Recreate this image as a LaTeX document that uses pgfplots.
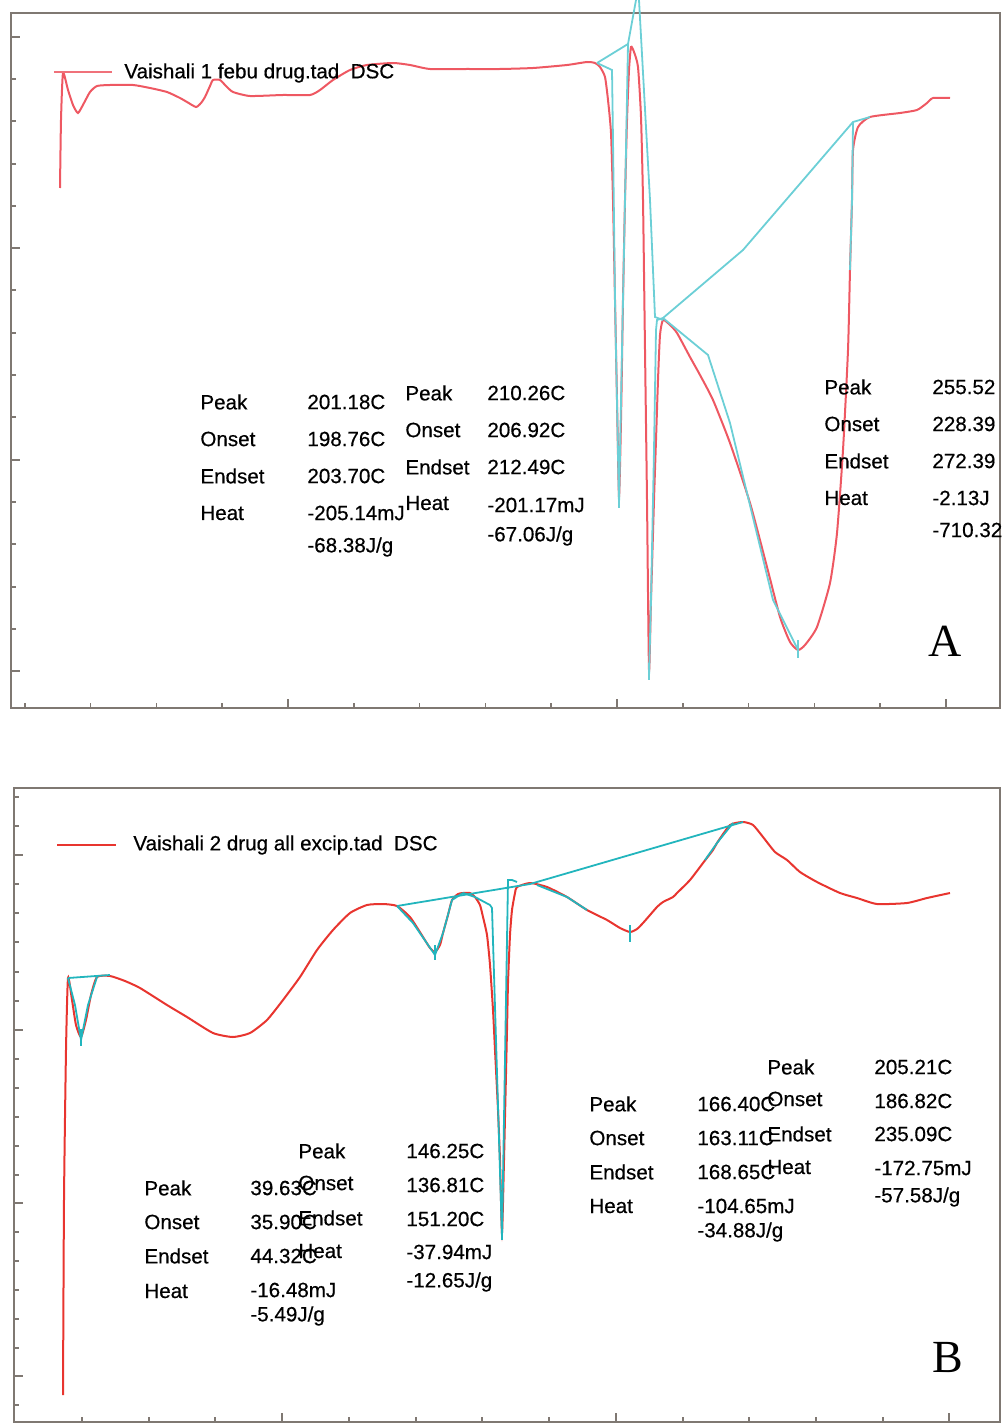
\documentclass[border=0pt]{standalone}
\usepackage{fontspec}
\setmainfont{Liberation Sans}
\newfontfamily\labfont{Liberation Sans}[FakeBold=0.5]
\newfontfamily\serifL{Liberation Serif}
\usepackage{pgfplots}
\pgfplotsset{compat=1.18}
\usepackage{pgfplotstable}
\definecolor{frameC}{HTML}{7F7872}
\definecolor{redA}{HTML}{EE5862}
\definecolor{cyanA}{HTML}{6CCFD6}
\definecolor{redB}{HTML}{E8352F}
\definecolor{cyanB}{HTML}{22B5BD}

% pixel coordinates (x, y downwards)
\pgfplotstableread{
x y
60 188
61 120
63 73
68 90
73 105
78 113
84 103
90 92
97 86
110 85
133 85
150 88
167 92
180 98
187 102
196 107
201 103
205 97
210 86
213 80
220 80
226 86
233 92
250 96
283 95
310 95
320 90
333 80
350 70
367 65
393 63
410 65
430 69
467 69
500 69
533 68
567 65
587 62
595 63
600 67
605 77
608 100
611 133
613 200
615 300
617 400
619 497
621 420
623 300
625 200
627 120
629 70
631 47
634 52
638 67
641 117
643 200
645 350
647 500
649 670
651 600
654 500
656 440
658 380
660 335
663 320
670 325
677 333
690 357
700 375
713 400
730 443
750 503
767 567
780 617
790 642
798 650
805 645
817 627
830 583
837 533
843 450
848 350
850 270
852 200
853 150
858 127
870 117
900 113
917 110
927 103
933 98
950 98
}\curveA

\pgfplotstableread{
x y
63 1395
64 1200
66 1050
68 978
72 1000
76 1025
81 1037
86 1020
91 995
97 977
110 976
125 981
140 988
167 1005
187 1017
213 1033
233 1037
250 1033
267 1020
283 1000
300 977
317 950
333 930
350 913
367 905
383 904
397 906
410 917
423 937
430 948
435 952
440 945
443 933
448 915
452 900
458 894
463 893
470 893
475 897
480 905
483 917
487 935
490 965
493 1010
495 1050
498 1110
500 1160
502 1233
504 1160
505 1117
507 1030
508 983
510 935
512 910
515 893
517 887
530 883
547 887
567 897
587 910
607 920
620 928
630 932
637 929
643 923
650 915
657 907
663 902
673 897
677 893
690 880
703 863
713 850
717 843
730 825
743 822
753 825
763 837
775 852
787 860
800 872
817 882
840 893
857 898
877 904
907 903
927 898
950 893
}\curveB

\pgfplotsset{
  dscax/.style={
    scale only axis, clip=false,
    axis line style={draw=frameC, line width=1pt},
    tick align=inside, xtick pos=left, ytick pos=left,
    xticklabels={}, yticklabels={},
    major tick length=4.5pt, minor tick length=2.5pt,
    every tick/.style={draw=frameC, line width=0.8pt},
  },
}
\tikzset{lab/.style={anchor=west, inner sep=0pt, font=\labfont\fontsize{10.3}{12}\selectfont}}

\begin{document}
\begin{tikzpicture}
\path[use as bounding box] (0,0) rectangle (501.5pt,-711.5pt);

% ---------------- Panel A ----------------
\begin{axis}[dscax,
  at={(5.5pt,-354pt)}, anchor=south west,
  width=494.5pt, height=347.5pt,
  xmin=11, xmax=1000, ymin=-708, ymax=-13,
  xtick={288,617,946},
  minor xtick={24.8,90.6,156.4,222.2,353.8,419.6,485.4,551.2,682.8,748.6,814.4,880.2},
  ytick={-671,-460,-248,-37},
  minor ytick={-629,-587,-544,-502,-417,-375,-333,-290,-206,-164,-121,-79},
]
\addplot[redA, line width=1pt, smooth, tension=0.35] table[x=x, y expr=-\thisrow{y}] {\curveA};
% integration construction lines
\addplot[cyanA, line width=0.9pt] coordinates {(597,-63) (628,-44) (636,0)};
\addplot[cyanA, line width=0.9pt] coordinates {(597,-63) (612,-70) (613,-140) (615,-300) (619,-505)};
\addplot[cyanA, line width=0.9pt] coordinates {(619,-505) (622,-350) (624,-250) (626,-150) (628,-44)};
\addplot[cyanA, line width=0.9pt] coordinates {(639,0) (650,-200) (655,-317) (663,-320)};
\addplot[cyanA, line width=0.9pt] coordinates {(649,-677) (651,-600) (654,-450) (656,-330) (657,-320) (663,-318)};
\addplot[cyanA, line width=0.9pt] coordinates {(663,-318) (743,-250) (853,-122) (870,-117)};
\addplot[cyanA, line width=0.9pt] coordinates {(853,-122) (852,-200) (850,-270)};
\addplot[cyanA, line width=0.9pt] coordinates {(663,-318) (708,-355) (730,-423) (773,-600) (798,-650)};
\addplot[cyanA, line width=0.9pt] coordinates {(619,-493) (619,-508)};
\addplot[cyanA, line width=0.9pt] coordinates {(649,-663) (649,-680)};
\addplot[cyanA, line width=0.9pt] coordinates {(798,-640) (798,-658)};
% legend
\addplot[redA!85!white, line width=1.3pt] coordinates {(54,-72) (112,-72)};
\node[lab] at (axis cs:124,-73) {Vaishali 1 febu drug.tad\ \ DSC};
% annotations
\node[lab] at (axis cs:200,-402) {Peak};
\node[lab] at (axis cs:200,-439) {Onset};
\node[lab] at (axis cs:200,-476) {Endset};
\node[lab] at (axis cs:200,-513) {Heat};
\node[lab] at (axis cs:307,-402) {201.18C};
\node[lab] at (axis cs:307,-439) {198.76C};
\node[lab] at (axis cs:307,-476) {203.70C};
\node[lab] at (axis cs:307,-513) {-205.14mJ};
\node[lab] at (axis cs:307,-547) {-68.38J/g};
\node[lab] at (axis cs:405,-393) {Peak};
\node[lab] at (axis cs:405,-430) {Onset};
\node[lab] at (axis cs:405,-467) {Endset};
\node[lab] at (axis cs:405,-503) {Heat};
\node[lab] at (axis cs:487,-393) {210.26C};
\node[lab] at (axis cs:487,-430) {206.92C};
\node[lab] at (axis cs:487,-467) {212.49C};
\node[lab] at (axis cs:487,-505) {-201.17mJ};
\node[lab] at (axis cs:487,-536) {-67.06J/g};
\node[lab] at (axis cs:824,-387) {Peak};
\node[lab] at (axis cs:824,-424) {Onset};
\node[lab] at (axis cs:824,-461) {Endset};
\node[lab] at (axis cs:824,-498) {Heat};
\node[lab] at (axis cs:932,-387) {255.52};
\node[lab] at (axis cs:932,-424) {228.39};
\node[lab] at (axis cs:932,-461) {272.39};
\node[lab] at (axis cs:932,-498) {-2.13J};
\node[lab] at (axis cs:932,-530) {-710.32};
\node[inner sep=0pt, font=\serifL\fontsize{23}{26}\selectfont] at (axis cs:945,-641) {A};
\end{axis}

% ---------------- Panel B ----------------
\begin{axis}[dscax,
  at={(7pt,-711pt)}, anchor=south west,
  width=493pt, height=317pt,
  xmin=14, xmax=1000, ymin=-1422, ymax=-788,
  xtick={282,616,949},
  minor xtick={82,149,215,349,416,482,549,683,749,816,883},
  ytick={-1376,-1203,-1030,-855},
  minor ytick={-1405,-1348,-1319,-1290,-1261,-1232,-1175,-1146,-1117,-1088,-1059,-1001,-972,-942,-913,-884,-826,-797},
]
\addplot[redB, line width=1pt, smooth, tension=0.35] table[x=x, y expr=-\thisrow{y}] {\curveB};
\addplot[cyanB, line width=0.9pt] coordinates {(68,-978) (110,-975)};
\addplot[cyanB, line width=0.9pt] coordinates {(68,-978) (75,-1005) (81,-1040) (88,-1005) (97,-977)};
\addplot[cyanB, line width=0.9pt] coordinates {(81,-1029) (81,-1046)};
\addplot[cyanB, line width=0.9pt] coordinates {(397,-906) (530,-884) (743,-822)};
\addplot[cyanB, line width=0.9pt] coordinates {(397,-906) (413,-923) (435,-955) (443,-933) (452,-900) (463,-893)};
\addplot[cyanB, line width=0.9pt] coordinates {(435,-945) (435,-960)};
\addplot[cyanB, line width=0.9pt] coordinates {(463,-893) (475,-897) (490,-905) (492,-908) (502,-1238) (508,-880) (512,-880) (517,-882)};
\addplot[cyanB, line width=0.9pt] coordinates {(502,-1224) (502,-1240)};
\addplot[cyanB, line width=0.9pt] coordinates {(537,-885) (567,-897) (587,-910)};
\addplot[cyanB, line width=0.9pt] coordinates {(705,-860) (717,-843) (733,-823)};
\addplot[cyanB, line width=0.9pt] coordinates {(630,-925) (630,-942)};
% legend
\addplot[redB, line width=1.3pt] coordinates {(57,-845) (116,-845)};
\node[lab] at (axis cs:133,-845) {Vaishali 2 drug all excip.tad\ \ DSC};
% annotations
\node[lab] at (axis cs:144,-1188) {Peak};
\node[lab] at (axis cs:144,-1222) {Onset};
\node[lab] at (axis cs:144,-1256) {Endset};
\node[lab] at (axis cs:144,-1291) {Heat};
\node[lab] at (axis cs:250,-1188) {39.63C};
\node[lab] at (axis cs:250,-1222) {35.90C};
\node[lab] at (axis cs:250,-1256) {44.32C};
\node[lab] at (axis cs:250,-1290) {-16.48mJ};
\node[lab] at (axis cs:250,-1316) {-5.49J/g};
\node[lab] at (axis cs:298,-1151) {Peak};
\node[lab] at (axis cs:298,-1183) {Onset};
\node[lab] at (axis cs:298,-1218) {Endset};
\node[lab] at (axis cs:298,-1251) {Heat};
\node[lab] at (axis cs:406,-1151) {146.25C};
\node[lab] at (axis cs:406,-1185) {136.81C};
\node[lab] at (axis cs:406,-1219) {151.20C};
\node[lab] at (axis cs:406,-1252) {-37.94mJ};
\node[lab] at (axis cs:406,-1282) {-12.65J/g};
\node[lab] at (axis cs:589,-1104) {Peak};
\node[lab] at (axis cs:589,-1138) {Onset};
\node[lab] at (axis cs:589,-1172) {Endset};
\node[lab] at (axis cs:589,-1206) {Heat};
\node[lab] at (axis cs:697,-1104) {166.40C};
\node[lab] at (axis cs:697,-1138) {163.11C};
\node[lab] at (axis cs:697,-1172) {168.65C};
\node[lab] at (axis cs:697,-1206) {-104.65mJ};
\node[lab] at (axis cs:697,-1232) {-34.88J/g};
\node[lab] at (axis cs:767,-1067) {Peak};
\node[lab] at (axis cs:767,-1099) {Onset};
\node[lab] at (axis cs:767,-1134) {Endset};
\node[lab] at (axis cs:767,-1167) {Heat};
\node[lab] at (axis cs:874,-1067) {205.21C};
\node[lab] at (axis cs:874,-1101) {186.82C};
\node[lab] at (axis cs:874,-1134) {235.09C};
\node[lab] at (axis cs:874,-1168) {-172.75mJ};
\node[lab] at (axis cs:874,-1197) {-57.58J/g};
\node[inner sep=0pt, font=\serifL\fontsize{23}{26}\selectfont] at (axis cs:948,-1357) {B};
\end{axis}
\end{tikzpicture}
\end{document}
